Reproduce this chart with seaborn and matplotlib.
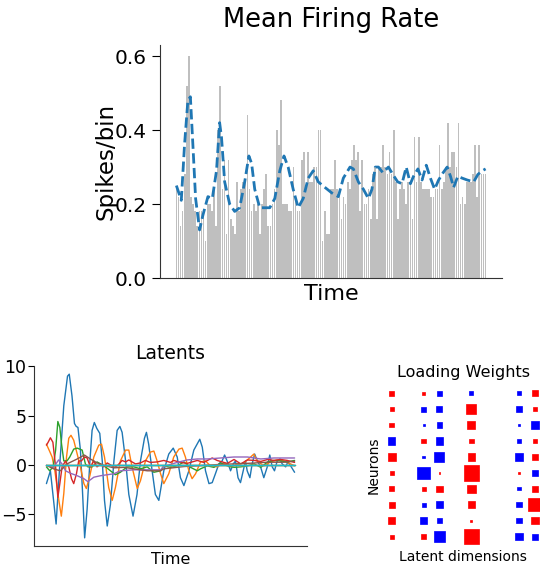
import numpy as np
import matplotlib
matplotlib.use("Agg")
import matplotlib.pyplot as plt
import seaborn as sns

# --- mean firing rate (spikes/bin), one value per time bin ---
rate_bars = [
    0.24, 0.22, 0.14, 0.18, 0.28, 0.52, 0.60, 0.22, 0.20, 0.18, 0.14, 0.18,
    0.18, 0.18, 0.10, 0.20, 0.20, 0.18, 0.24, 0.14, 0.40, 0.52, 0.24, 0.32,
    0.12, 0.32, 0.16, 0.14, 0.12, 0.26, 0.18, 0.24, 0.26, 0.26, 0.44, 0.24,
    0.18, 0.20, 0.18, 0.20, 0.12, 0.20, 0.24, 0.28, 0.14, 0.14, 0.20, 0.24,
    0.40, 0.36, 0.48, 0.20, 0.20, 0.20, 0.18, 0.18, 0.30, 0.22, 0.18, 0.18,
    0.32, 0.34, 0.24, 0.34, 0.26, 0.26, 0.30, 0.30, 0.40, 0.40, 0.10, 0.18,
    0.12, 0.12, 0.24, 0.24, 0.32, 0.24, 0.24, 0.16, 0.22, 0.20, 0.26, 0.24,
    0.32, 0.36, 0.32, 0.34, 0.18, 0.32, 0.20, 0.20, 0.24, 0.16, 0.28, 0.30,
    0.16, 0.30, 0.30, 0.36, 0.30, 0.28, 0.34, 0.28, 0.40, 0.26, 0.16, 0.24,
    0.26, 0.24, 0.20, 0.26, 0.26, 0.16, 0.38, 0.26, 0.38, 0.26, 0.24, 0.24,
    0.24, 0.24, 0.22, 0.22, 0.24, 0.24, 0.36, 0.24, 0.26, 0.30, 0.42, 0.30,
    0.34, 0.34, 0.30, 0.42, 0.20, 0.22, 0.20, 0.26, 0.26, 0.26, 0.28, 0.36,
    0.22, 0.36, 0.28, 0.28, 0.28,
]

# smoothed rate (dashed), read at bin positions
smooth_bin = [
    0, 2.35, 3.9, 5.5, 6.7, 7.9, 9.2, 11.1, 12.7, 15.1, 17.2, 19.2, 20.7, 21.6,
    23.1, 25.5, 27.9, 30.3, 32.7, 34.7, 36.0, 37.5, 39.9, 42.3, 44.7, 47.1,
    49.5, 51.5, 53.5, 55.9, 58.3, 60.7, 63.1, 65.5, 67.9, 71.1, 74.4, 77.5,
    79.9, 83.1, 84.7, 87.1, 89.5, 91.9, 93.6, 95.2, 96.7, 98.8, 101.5, 103.6,
    105.9, 108.0, 110.0, 112.0, 113.5, 115.6, 117.6, 119.6, 121.6, 123.6,
    125.5, 127.7, 129.6, 131.2, 132.7, 134.7, 136.8, 139.2, 142.3, 144.3,
    146.4, 148,
]
smooth_rate = [
    0.25, 0.21, 0.36, 0.48, 0.49, 0.36, 0.215, 0.13, 0.17, 0.22, 0.215, 0.29,
    0.42, 0.38, 0.26, 0.20, 0.18, 0.19, 0.26, 0.33, 0.31, 0.24, 0.19, 0.19,
    0.19, 0.215, 0.29, 0.33, 0.30, 0.24, 0.19, 0.215, 0.27, 0.29, 0.26, 0.245,
    0.23, 0.22, 0.27, 0.30, 0.295, 0.26, 0.24, 0.215, 0.24, 0.30, 0.30, 0.285,
    0.30, 0.28, 0.26, 0.255, 0.30, 0.255, 0.275, 0.295, 0.265, 0.305, 0.27,
    0.24, 0.265, 0.285, 0.30, 0.275, 0.245, 0.275, 0.27, 0.265, 0.26, 0.28,
    0.29, 0.295,
]

# --- latent trajectories (time, value) ---
lat0_t = [0, 1.6, 3.9, 5.5, 7.0, 8.5, 9.2, 10.3, 11.3, 12.0, 12.7, 13.7, 14.5,
          15.4, 16.4, 17.5, 18.4, 19.3, 20.3, 21.5, 22.5, 23.4, 24.5, 25.8,
          27.2, 28.5, 29.6, 30.5, 31.9, 33.2, 34.9, 36.5, 37.9, 39.5, 40.3,
          41.2, 42.6, 43.9, 45.3, 47.3, 49.3, 51.1, 52.7, 54.0, 55.4, 57.4,
          59.4, 61.8, 62.8, 64.1, 65.5, 66.8, 68.1, 69.5, 70.8, 71.8, 72.8,
          74.2, 75.3, 76.2, 77.2, 78.2, 79.3, 80.2, 80.9, 82.0, 82.9, 83.9,
          85.0, 86.3, 87.6, 89.0, 90.0, 91.0, 91.9, 93.0, 94.1, 95.0, 96.4,
          97.3, 98.4, 100]
lat0_v = [-1.9, -0.6, -6.0, 0.5, 6.0, 9.0, 9.2, 7.0, 4.2, 3.9, 3.8, 1.5, -2.5,
          -7.4, -4.5, 0.3, 3.5, 4.3, 3.7, 3.2, 0.4, -3.6, -6.2, -4.0, 0.4, 3.5,
          3.9, 3.3, 0.4, -3.0, -5.2, -3.0, 0.4, 2.7, 3.3, 2.1, -0.6, -3.0,
          -3.6, -0.6, 1.1, 1.7, 0.8, -1.3, -2.1, -0.6, 1.5, 2.6, 1.8, -0.6,
          -1.9, -1.8, -0.9, 0.1, 0.4, 1.0, 0.4, -0.6, 0.1, 0.4, -1.3, -1.8,
          -0.6, 0.4, -0.6, -1.3, 0.1, 1.1, 0.4, -0.2, -1.3, -0.2, 1.0, -0.2,
          -0.6, 0.4, 0.6, 0.1, -0.2, 0.3, -0.1, -0.75]

lat1_t = [0, 0.9, 2.3, 3.4, 5.0, 6.0, 7.0, 8.1, 9.0, 9.9, 11.0, 12.4, 13.7,
          15.1, 16.1, 17.5, 19.1, 21.1, 22.2, 23.4, 25.1, 26.5, 27.8, 29.8,
          31.9, 33.2, 34.5, 36.6, 37.9, 39.9, 41.9, 43.3, 44.6, 46.0, 47.3,
          49.3, 51.3, 53.4, 54.7, 56.0, 57.4, 58.7, 60.1, 62.1, 64.1, 66.1,
          68.8, 71.5, 74.2, 76.9, 79.6, 82.3, 83.6, 84.9, 87.6, 90.3, 93.0,
          95.7, 98.4, 100]
lat1_v = [2.1, 1.6, 0.8, -0.6, -3.6, -5.2, -2.9, 0.8, 2.7, 3.0, 2.5, 1.1, -0.2,
          -1.9, -2.4, -1.1, 0.8, 2.0, 2.1, 0.8, -2.3, -3.6, -2.3, 0.4, 1.5,
          1.5, -0.2, -2.4, -1.6, 0.4, 1.3, 1.4, 0.4, -0.9, -1.9, -0.9, 0.8,
          1.6, 1.7, 0.8, -0.6, -1.4, -0.9, 0.3, 0.4, -0.1, -0.2, 0.2, -0.2,
          0.0, 0.2, 0.8, 1.1, 0.4, -0.1, 0.3, 0.5, 0.4, 0.1, -0.1]

lat2_t = [0, 1.3, 2.7, 3.7, 4.6, 5.4, 6.1, 7.0, 8.3, 9.4, 11.0, 12.4, 14.4,
          15.7, 16.7, 18.4, 20.4, 21.8, 23.8, 25.8, 27.8, 29.8, 32.5, 35.2,
          37.9, 40.6, 43.3, 46.0, 47.3, 50.0, 52.7, 55.4, 58.1, 60.8, 62.1,
          64.8, 67.5, 70.2, 72.9, 75.6, 78.3, 81.0, 83.7, 86.4, 89.1, 91.7,
          94.4, 97.1, 100]
lat2_v = [-0.2, -0.6, -0.2, 1.5, 4.4, 3.8, 2.1, 0.4, 0.4, 0.8, 1.6, 1.7, 1.5,
          0.1, -0.2, -0.2, 0.3, 0.1, -0.2, -0.6, -1.0, -0.75, -0.2, -0.2,
          -0.4, -0.2, -0.75, -0.6, -0.1, -0.25, -0.1, 0.3, -0.25, -0.6, -0.4,
          -0.1, -0.25, 0.2, -0.1, -0.25, -0.2, -0.1, 0.1, -0.25, 0.3, 0.45,
          0.4, 0.3, 0.45]

lat3_t = [0, 0.7, 1.6, 2.6, 3.7, 4.6, 5.4, 6.3, 7.7, 9.0, 10.1, 11.0, 12.1,
          13.0, 14.1, 15.3, 16.4, 17.7, 19.1, 20.4, 21.8, 23.1, 24.5, 25.8,
          27.2, 28.5, 30.5, 31.9, 33.2, 34.5, 35.9, 37.9, 39.9, 41.9, 44.6,
          47.3, 50.0, 51.3, 54.0, 56.7, 60.8, 63.4, 66.8, 68.8, 72.9, 75.6,
          78.3, 81.0, 83.7, 86.4, 89.1, 91.7, 94.4, 97.1, 100]
lat3_v = [2.0, 2.3, 2.75, 2.3, -0.2, -3.3, -1.9, -0.2, 0.4, -0.2, -1.4, -1.9,
          -0.9, 0.4, 0.4, 0.8, 0.7, -0.2, 0.4, -0.2, 0.1, -0.2, 0.2, 0.0,
          -0.25, -0.1, 0.45, 0.3, 0.5, 0.3, 0.1, 0.2, 0.45, 0.25, 0.3, 0.45,
          0.25, 0.45, 0.25, 0.15, 0.45, 0.25, 0.7, 0.45, 0.15, 0.55, 0.1, 0.5,
          0.45, 0.35, 0.55, 0.45, 0.55, 0.45, 0.25]

lat4_t = [0, 2.9, 4.9, 6.3, 7.7, 9.7, 12.4, 15.1, 16.7, 19.1, 21.8, 24.5,
          27.2, 29.8, 35.2, 40.6, 46.0, 47.3, 52.7, 56.7, 60.8, 64.8, 70.2,
          75.6, 81.0, 86.4, 91.7, 95.7, 100]
lat4_v = [-0.05, -0.25, 0.5, 0.1, -0.6, -0.85, -1.1, -1.4, -1.7, -1.25, -1.1,
          -1.0, -0.9, -0.6, -0.5, -0.5, -0.5, -0.15, 0.25, 0.5, 0.6, 0.6, 0.7,
          0.8, 0.8, 0.6, 0.7, 0.7, 0.7]

lat5_t = [0, 2.9, 5.6, 8.3, 12.4, 15.3, 17.7, 20.4, 23.1, 27.2, 31.2, 35.2,
          40.6, 46.0, 47.3, 55.4, 62.1, 68.8, 75.6, 82.3, 89.1, 95.7, 100]
lat5_v = [-0.05, -0.4, -0.6, 0.1, 0.6, 1.0, 0.6, 0.2, -0.05, -0.3, -0.25,
          -0.4, -0.6, -0.6, -0.4, -0.17, -0.07, 0.03, 0.1, 0.17, 0.27, 0.27,
          0.37]

flat_t = [0, 100]
flat_v = [0.0, 0.0]

latent_t = [lat0_t, lat1_t, lat2_t, lat3_t, lat4_t, lat5_t,
            flat_t, flat_t, flat_t, flat_t]
latent_v = [lat0_v, lat1_v, lat2_v, lat3_v, lat4_v, lat5_v,
            flat_v, flat_v, flat_v, flat_v]

# --- loading weights, neurons (rows) x latent dimensions (cols) ---
loadings = np.array([
    [0.111, 0, 0.043, -0.111, 0, -0.0625, 0, 0, -0.0625, 0.141],
    [0.0625, 0, -0.111, -0.141, 0, 0.39, 0, 0, -0.141, 0.0625],
    [0.085, 0, -0.0156, -0.111, 0, 0.25, 0, 0, -0.028, -0.293],
    [-0.21, 0, 0.085, -0.21, 0, 0.085, 0, 0, -0.0625, 0.0625],
    [0.25, 0, -0.028, -0.39, 0, 0.21, 0, 0, -0.21, 0.141],
    [0.0625, 0, -0.627, 0.011, 0, 0.918, 0, 0, 0.0156, -0.141],
    [0.111, 0, 0.0625, 0.174, 0, 0.293, 0, 0, -0.043, 0.174],
    [0.141, 0, -0.0625, -0.21, 0, 0.174, 0, 0, -0.111, 0.694],
    [0.21, 0, -0.21, -0.085, 0, 0.0156, 0, 0, -0.111, 0.21],
    [0.0625, 0, 0.085, -0.444, 0, 0.84, 0, 0, -0.21, -0.141],
])

sns.set_style("ticks")
plt.rcParams["font.family"] = ["DejaVu Sans"]
plt.rcParams["text.color"] = "black"
plt.rcParams["axes.labelcolor"] = "black"
plt.rcParams["xtick.color"] = "black"
plt.rcParams["ytick.color"] = "black"
plt.rcParams["axes.edgecolor"] = "#333333"
palette = sns.color_palette("tab10", 10)

fig = plt.figure(figsize=(5.4, 5.67), dpi=100)

# Mean firing rate
ax1 = fig.add_axes([0.2963, 0.5097, 0.6333, 0.4109])
bins = np.arange(len(rate_bars))
ax1.bar(bins, rate_bars, width=0.8, color="#bfbfbf", linewidth=0,
        edgecolor="none")
sns.lineplot(x=smooth_bin, y=smooth_rate, ax=ax1, color=palette[0],
             linestyle="--", linewidth=2, sort=False)
ax1.set_xticks([])
ax1.set_yticks([0.0, 0.2, 0.4, 0.6])
ax1.tick_params(axis="y", labelsize=14.5, length=6)
ax1.set_title("Mean Firing Rate", fontsize=18.5, pad=13)
ax1.set_xlabel("Time", fontsize=16)
ax1.set_ylabel("Spikes/bin", fontsize=16.5, labelpad=-2)
sns.despine(ax=ax1)

# Latents
ax2 = fig.add_axes([0.063, 0.037, 0.5055, 0.3175])
for i in range(10):
    sns.lineplot(x=latent_t[i], y=latent_v[i], ax=ax2, color=palette[i],
                 linewidth=1, sort=False)
ax2.set_xticks([])
ax2.set_yticks([-5, 0, 5, 10])
ax2.tick_params(axis="y", labelsize=12.5, length=4, pad=1.5)
ax2.set_title("Latents", fontsize=13.5, pad=5)
ax2.set_xlabel("Time", fontsize=11.5)
sns.despine(ax=ax2)

# Loading weights (Hinton diagram)
ax3 = fig.add_axes([0.7106, 0.0395, 0.2948, 0.281])
max_weight = 1.0
for (row, col), w in np.ndenumerate(loadings):
    size = np.sqrt(abs(w) / max_weight)
    color = "red" if w > 0 else "blue"
    ax3.add_patch(plt.Rectangle((col - size / 2, row - size / 2), size, size,
                                facecolor=color, edgecolor=color, lw=0.5))
ax3.set_xlim(-0.5, 9.5)
ax3.set_ylim(9.5, -0.5)
ax3.set_xticks([])
ax3.set_yticks([])
for s in ax3.spines.values():
    s.set_visible(False)
ax3.set_title("Loading Weights", fontsize=11.5)
ax3.set_xlabel("Latent dimensions", fontsize=10)
ax3.set_ylabel("Neurons", fontsize=10, labelpad=2)

fig.savefig("out.png", dpi=100)
